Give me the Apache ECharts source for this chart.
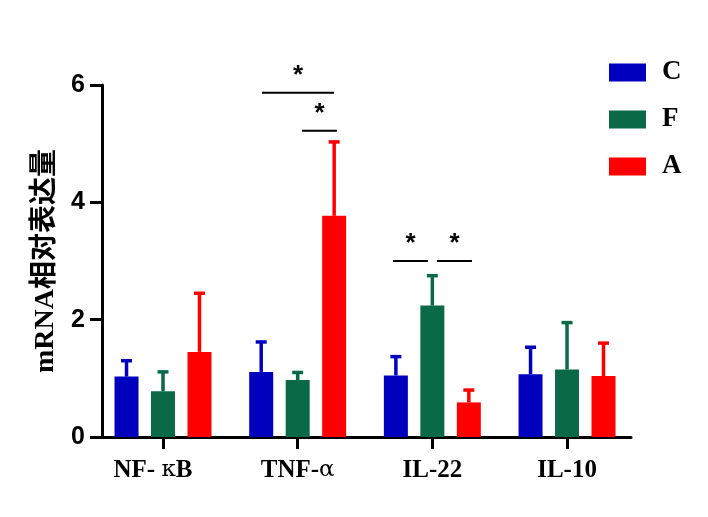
<!DOCTYPE html>
<html>
<head>
<meta charset="utf-8">
<script src="https://cdn.jsdelivr.net/npm/echarts@6/dist/echarts.min.js"></script>
<style>html,body{margin:0;padding:0;background:#fff;}#c{width:708px;height:517px;}</style>
</head>
<body>
<div id="c"></div>
<script>
const categories = ['NF-κB', 'TNF-α', 'IL-22', 'IL-10'];
const groups = ['C', 'F', 'A'];
const meanC = [1.03, 1.11, 1.05, 1.07];
const meanF = [0.78, 0.97, 2.24, 1.15];
const meanA = [1.45, 3.77, 0.59, 1.04];
const upperC = [1.30, 1.62, 1.37, 1.53];
const upperF = [1.11, 1.10, 2.75, 1.95];
const upperA = [2.45, 5.03, 0.80, 1.60];
const yTicks = [0, 2, 4, 6];
// significance brackets: [x start, x end (category units), y value]
const sigBrackets = [[0.735, 1.270, 5.87], [1.032, 1.292, 5.22], [1.708, 1.967, 3.0], [2.034, 2.294, 3.0]];
const sigLabels = ['*', '*', '*', '*'];

const colors = ['#0000BE', '#0A6A47', '#FF0000'];
const means = [meanC, meanF, meanA];
const uppers = [upperC, upperF, upperA];
const BAR_W = 24;
const BAR_GAP = 0.52;

const chart = echarts.init(document.getElementById('c'));
const series = [];
groups.forEach((g, gi) => {
  series.push({
    name: g,
    type: 'bar',
    barWidth: BAR_W,
    barGap: (BAR_GAP * 100) + '%',
    itemStyle: { color: colors[gi] },
    data: means[gi].map((v, i) => [i, v]),
    z: 2
  });
});
groups.forEach((g, gi) => {
  series.push({
    name: g + '_err',
    type: 'custom',
    z: 3,
    silent: true,
    data: means[gi].map((v, i) => [i, v, uppers[gi][i]]),
    renderItem: function (params, api) {
      const step = BAR_W * (1 + BAR_GAP);
      const off = (gi - 1) * step;
      const top = api.coord([api.value(0), api.value(1)]);
      const up = api.coord([api.value(0), api.value(2)]);
      const x = top[0] + off;
      const style = { stroke: colors[gi], lineWidth: 3.5 };
      return {
        type: 'group',
        children: [
          { type: 'line', shape: { x1: x, y1: top[1], x2: x, y2: up[1] }, style: style },
          { type: 'line', shape: { x1: x - 5.5, y1: up[1], x2: x + 5.5, y2: up[1] }, style: style }
        ]
      };
    }
  });
});
series.push({
  name: 'sig',
  type: 'custom',
  z: 4,
  silent: true,
  data: sigBrackets,
  renderItem: function (params, api) {
    const a = api.coord([api.value(0), api.value(2)]);
    const b = api.coord([api.value(1), api.value(2)]);
    return {
      type: 'group',
      children: [
        { type: 'line', shape: { x1: a[0], y1: a[1], x2: b[0], y2: b[1] }, style: { stroke: '#000', lineWidth: 2 } },
        { type: 'text', x: (a[0] + b[0]) / 2, y: a[1] - 4, style: { text: sigLabels[params.dataIndex], fill: '#000', font: 'bold 26px "Liberation Sans", Arial, sans-serif', align: 'center', verticalAlign: 'bottom' } }
      ]
    };
  }
});

chart.setOption({
  animation: false,
  backgroundColor: '#fff',
  grid: { left: 102, right: 77, top: 85, bottom: 80, containLabel: false },
  legend: {
    orient: 'vertical',
    left: 604,
    top: 54,
    itemWidth: 37,
    itemHeight: 18,
    itemGap: 20,
    icon: 'rect',
    data: groups,
    textStyle: { fontFamily: '"Liberation Serif", "Times New Roman", serif', fontWeight: 'bold', fontSize: 27, color: '#000', padding: [0, 0, 0, 11] }
  },
  xAxis: {
    type: 'value',
    min: -0.453,
    max: 3.475,
    splitLine: { show: false },
    axisLine: { show: true, onZero: false, lineStyle: { color: '#000', width: 3 } },
    axisTick: { show: true, length: 12, lineStyle: { color: '#000', width: 3 }, customValues: [0, 1, 2, 3] },
    axisLabel: {
      customValues: [0, 1, 2, 3],
      margin: 21,
      formatter: function (v) {
        const name = categories[Math.round(v)];
        if (name === 'NF-κB') return '{b|NF- }{g|κ}{b|B}{p|}';
        if (name === 'TNF-α') return '{b|TNF-}{g|α}';
        return '{b|' + name + '}';
      },
      rich: {
        b: { fontFamily: '"Liberation Serif", "Times New Roman", serif', fontWeight: 'bold', fontSize: 25, color: '#000' },
        g: { fontFamily: '"DejaVu Serif", "Liberation Serif", serif', fontWeight: 'normal', fontSize: 23, color: '#000' },
        p: { width: 20 }
      }
    }
  },
  yAxis: {
    type: 'value',
    min: 0,
    max: 6,
    interval: 2,
    name: 'mRNA相对表达量',
    nameLocation: 'middle',
    nameGap: 42,
    nameRotate: 90,
    nameTextStyle: { fontFamily: '"Liberation Serif", "Noto Sans CJK SC", serif', fontWeight: 'bold', fontSize: 28, color: '#000' },
    splitLine: { show: false },
    axisLine: { show: true, onZero: false, lineStyle: { color: '#000', width: 3 } },
    axisTick: { show: true, length: 12, lineStyle: { color: '#000', width: 3 } },
    axisLabel: { margin: 17, fontFamily: '"Liberation Sans", Arial, sans-serif', fontWeight: 'bold', fontSize: 25, color: '#000' }
  },
  series: series
});
</script>
</body>
</html>
